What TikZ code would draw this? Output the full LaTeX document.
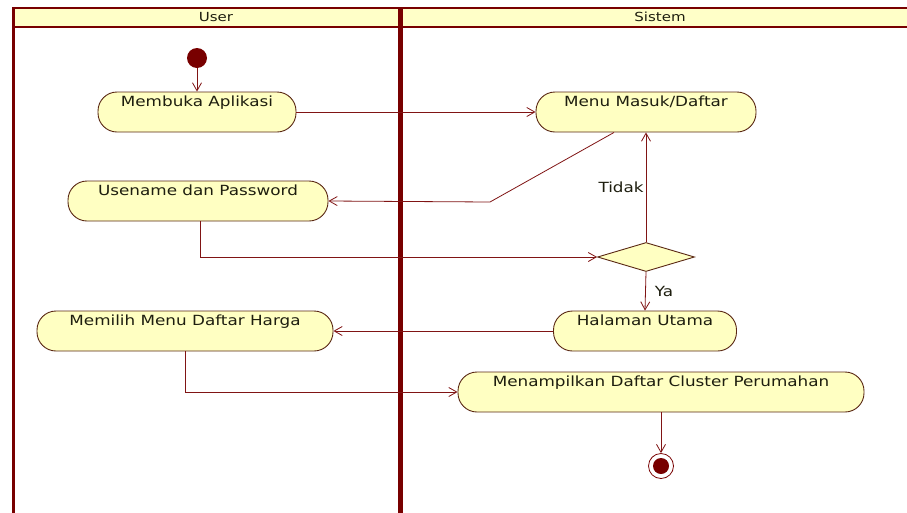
\documentclass[tikz,border=0pt]{standalone}
\usepackage{fontspec}
\setmainfont{DejaVu Sans}[FakeStretch=1.2]
\usetikzlibrary{arrows.meta,shapes.geometric,calc}
\definecolor{lane}{RGB}{120,0,0}
\definecolor{headfill}{RGB}{255,255,200}
\definecolor{actfill}{RGB}{255,255,194}
\definecolor{actline}{RGB}{90,40,20}
\definecolor{flow}{RGB}{128,20,20}
\definecolor{txt}{RGB}{30,30,15}
\tikzset{
  act/.style={draw=actline, fill=actfill, line width=0.9pt, rounded corners=19pt,
    font=\fontsize{14}{16}\selectfont, text=txt, inner xsep=6pt, inner ysep=4pt,
    text height=10pt, text depth=22pt, anchor=center},
  decision/.style={draw=actline, fill=actfill, line width=0.9pt, diamond, aspect=3.3,
    minimum width=97pt, minimum height=29pt, inner sep=0pt},
  flowline/.style={draw=flow, line width=0.8pt, -{Straight Barb[length=8pt,width=9pt]}},
  guard/.style={font=\fontsize{14}{16}\selectfont, text=txt},
  lanetitle/.style={font=\fontsize{12.5}{14}\selectfont, text=txt}
}
\begin{document}
\begin{tikzpicture}[x=1pt,y=-1pt]
\useasboundingbox (0,0) rectangle (907,512);
\fill[white] (0,0) rectangle (907,512);
% swimlane frame and header
\fill[headfill] (13,8) rectangle (912,27);
\draw[lane, line width=2pt] (912,8) -- (13,8);
\draw[lane, line width=3pt] (13,7) -- (13,520);
\draw[lane, line width=2pt] (13,27) -- (912,27);
\draw[lane, line width=5pt] (400,7) -- (400,520);
\node[lanetitle] (userlane) at (216,17) {User};
\node[lanetitle] (syslane) at (660,17) {Sistem};
% start and end
\node[circle, fill=lane, minimum size=20pt, inner sep=0pt] (start) at (197,58) {};
\node[circle, draw=lane, fill=white, line width=0.8pt, minimum size=25pt, inner sep=0pt] (stop) at (661,466) {};
\node[circle, fill=lane, minimum size=16pt, inner sep=0pt] (stopdot) at (661,466) {};
% activities
\node[act, minimum width=198pt] (membuka) at (197,112) {Membuka Aplikasi};
\node[act, minimum width=220pt] (menu) at (646,112) {Menu Masuk/Daftar};
\node[act, minimum width=260pt] (usename) at (198,201) {Usename dan Password};
\node[decision] (dec) at (646,257) {};
\node[act, minimum width=183pt] (halaman) at (645,331) {Halaman Utama};
\node[act, minimum width=296pt] (memilih) at (185,331) {Memilih Menu Daftar Harga};
\node[act, minimum width=406pt] (tampil) at (661,392) {Menampilkan Daftar Cluster Perumahan};
% flows
\coordinate (bend) at (490,202);
\draw[flowline] (start) -- (membuka.north);
\draw[flowline] (membuka.east) -- (menu.west);
\draw[flowline] ([xshift=-32pt]menu.south) -- (bend) -- (usename.east);
\draw[flowline] ([xshift=2pt]usename.south) |- (dec.west);
\draw[flowline] (dec.north) -- node[guard, left, pos=0.5, inner sep=2pt] (tidak) {Tidak} (menu.south);
\draw[flowline] (dec.south) -- node[guard, right, pos=0.5, inner sep=9pt] (ya) {Ya} (halaman.north);
\draw[flowline] (halaman.west) -- (memilih.east);
\draw[flowline] (memilih.south) |- (tampil.west);
\draw[flowline] (tampil.south) -- (stop.north);
\end{tikzpicture}
\end{document}
